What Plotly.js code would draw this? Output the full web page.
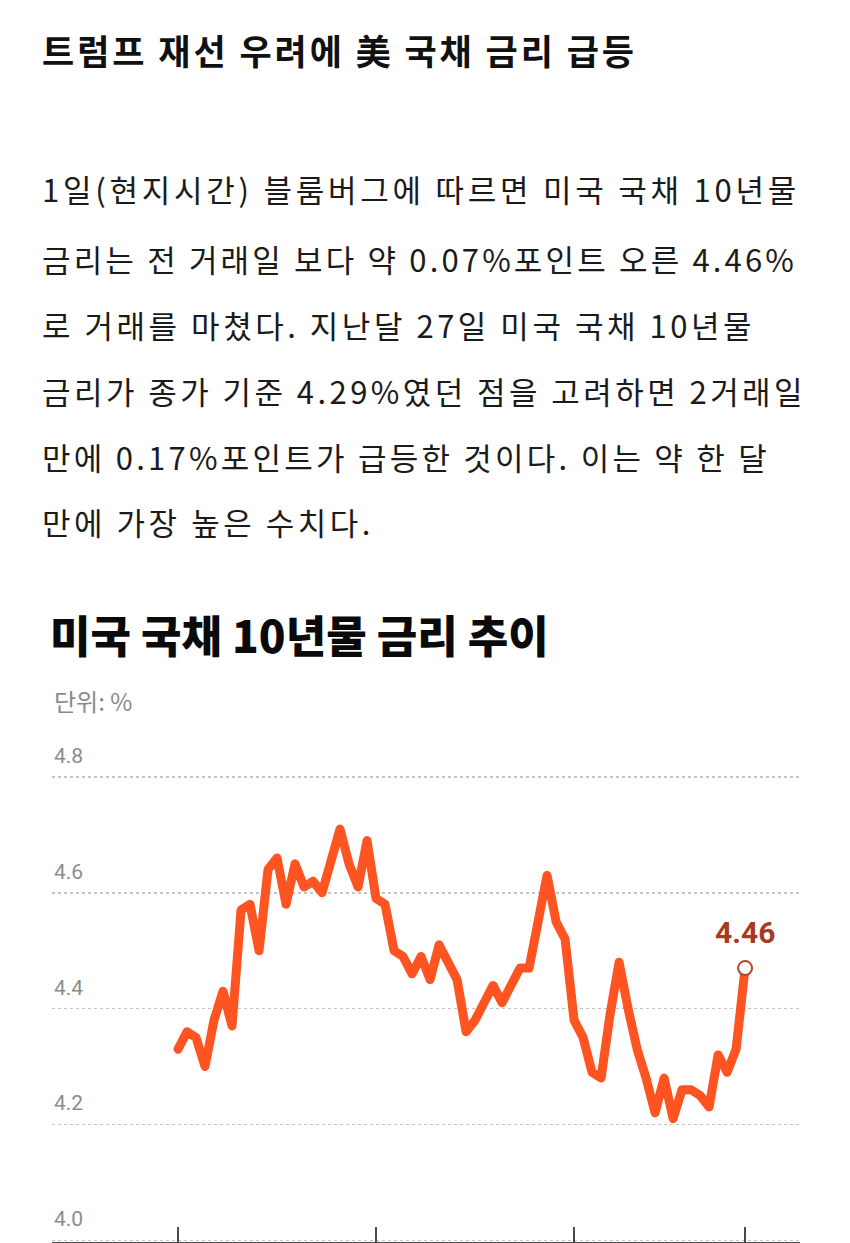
<!DOCTYPE html>
<html>
<head>
<meta charset="utf-8">
<script src="https://cdn.plot.ly/plotly-3.0.1.min.js"></script>
<style>
  html, body { margin: 0; padding: 0; background: #ffffff; }
  body { width: 850px; height: 1243px; position: relative; overflow: hidden; }
  #chart { position: absolute; left: 0; top: 0; width: 850px; height: 1243px; }
  .txt { position: absolute; left: 42px; white-space: nowrap; z-index: 5;
         font-family: "Noto Sans CJK KR", "Noto Sans", sans-serif; color: #1b1b1b; }
  .head { font-size: 35px; font-weight: 700; color: #111; line-height: 40px; }
  .body { font-size: 31px; font-weight: 400; line-height: 40px; }
  .scatterlayer .js-line { stroke-linejoin: round !important; stroke-linecap: round !important; }
</style>
</head>
<body>
<div id="chart"></div>
<script>
// ---------- text ----------
const headline = "트럼프 재선 우려에 美 국채 금리 급등";
const bodyLines = [
  "1일(현지시간) 블룸버그에 따르면 미국 국채 10년물",
  "금리는 전 거래일 보다 약 0.07%포인트 오른 4.46%",
  "로 거래를 마쳤다. 지난달 27일 미국 국채 10년물",
  "금리가 종가 기준 4.29%였던 점을 고려하면 2거래일",
  "만에 0.17%포인트가 급등한 것이다. 이는 약 한 달",
  "만에 가장 높은 수치다."
];
const chartTitle = "미국 국채 10년물 금리 추이";
const unitLabel = "단위: %";
const lastLabel = "4.46";

// ---------- data ----------
const dates = [
  "2024-04-01","2024-04-02","2024-04-03","2024-04-04","2024-04-05",
  "2024-04-08","2024-04-09","2024-04-10","2024-04-11","2024-04-12",
  "2024-04-15","2024-04-16","2024-04-17","2024-04-18","2024-04-19",
  "2024-04-22","2024-04-23","2024-04-24","2024-04-25","2024-04-26",
  "2024-04-29","2024-04-30",
  "2024-05-01","2024-05-02","2024-05-03",
  "2024-05-06","2024-05-07","2024-05-08","2024-05-09","2024-05-10",
  "2024-05-13","2024-05-14","2024-05-15","2024-05-16","2024-05-17",
  "2024-05-20","2024-05-21","2024-05-22","2024-05-23","2024-05-24",
  "2024-05-28","2024-05-29","2024-05-30","2024-05-31",
  "2024-06-03","2024-06-04","2024-06-05","2024-06-06","2024-06-07",
  "2024-06-10","2024-06-11","2024-06-12","2024-06-13","2024-06-14",
  "2024-06-17","2024-06-18","2024-06-20","2024-06-21",
  "2024-06-24","2024-06-25","2024-06-26","2024-06-27","2024-06-28",
  "2024-07-01"
];
const yields = [
  4.33, 4.36, 4.35, 4.30, 4.38,
  4.43, 4.37, 4.57, 4.58, 4.50,
  4.64, 4.66, 4.58, 4.65, 4.61,
  4.62, 4.60, 4.66, 4.71, 4.65,
  4.61, 4.69,
  4.59, 4.58, 4.50,
  4.49, 4.46, 4.49, 4.45, 4.51,
  4.48, 4.45, 4.36, 4.38, 4.41,
  4.44, 4.41, 4.44, 4.47, 4.47,
  4.55, 4.63, 4.55, 4.52,
  4.38, 4.35, 4.29, 4.28, 4.39,
  4.48, 4.40, 4.33, 4.28, 4.22,
  4.28, 4.21, 4.26, 4.26,
  4.25, 4.23, 4.32, 4.29, 4.33,
  4.47
];
const xTickDates = ["2024-04-01", "2024-05-01", "2024-06-03", "2024-07-01"];
const yTicks = [4.0, 4.2, 4.4, 4.6, 4.8];

// ---------- article text (HTML) ----------
function addLine(text, cls, centerY, targetW) {
  const d = document.createElement("div");
  d.className = "txt " + cls;
  d.textContent = text;
  d.style.top = (centerY - 20 - 2) + "px";
  document.body.appendChild(d);
  const nat = d.getBoundingClientRect().width;
  const n = [...text].length;
  if (targetW && n > 1) {
    d.style.letterSpacing = ((targetW - nat) / n) + "px";
  }
}
addLine(headline, "head", 52, 595);
const lineCenters = [191, 261, 327, 393, 459, 524];
const lineWidths = [758, 755, 713, 764, 728, 332];
bodyLines.forEach((t, i) => addLine(t, "body", lineCenters[i], lineWidths[i]));

// ---------- chart ----------
const lineColor = "#fd5422";
const n = dates.length;

const traces = [
  {
    type: "scatter", mode: "lines",
    x: dates, y: yields,
    line: { color: lineColor, width: 9, shape: "linear" },
    hoverinfo: "skip"
  },
  {
    type: "scatter", mode: "markers",
    x: [dates[n - 1]], y: [yields[n - 1]],
    marker: { size: 14, color: "#ffffff", line: { color: "#b5472d", width: 2 } },
    hoverinfo: "skip"
  }
];

const yTickAnnotations = yTicks.map(v => ({
  xref: "paper", yref: "y",
  x: 0, xanchor: "left", xshift: 0,
  y: v, yanchor: "bottom", yshift: 7,
  text: v.toFixed(1), showarrow: false,
  font: { family: "Roboto, 'Liberation Sans', sans-serif", size: 21, color: "#8c8c8c" }
}));

const layout = {
  width: 850, height: 1243,
  margin: { l: 52, r: 50, t: 719, b: 1 },
  paper_bgcolor: "rgba(0,0,0,0)",
  plot_bgcolor: "rgba(0,0,0,0)",
  showlegend: false,
  font: { family: "Roboto, 'Noto Sans CJK KR', sans-serif" },
  title: {
    text: chartTitle,
    xref: "container", yref: "container",
    x: 50 / 850, xanchor: "left",
    y: 1 - 638 / 1243, yanchor: "middle",
    font: { family: "'Noto Sans CJK KR', sans-serif", size: 44, weight: 900, color: "#0a0a0a" }
  },
  xaxis: {
    type: "category",
    categoryorder: "array", categoryarray: dates,
    range: [-14, 69.1],
    showgrid: false, zeroline: false,
    showline: true, linecolor: "#4a4a4a", linewidth: 1.5,
    tickmode: "array", tickvals: xTickDates,
    ticks: "inside", ticklen: 15, tickwidth: 1.5, tickcolor: "#4a4a4a",
    showticklabels: false,
    fixedrange: true
  },
  yaxis: {
    range: [3.997, 4.9],
    tickmode: "array", tickvals: yTicks,
    showticklabels: false,
    ticks: "",
    showgrid: true, gridcolor: "#c4c4c4", gridwidth: 1.5, griddash: "dot",
    zeroline: false, showline: false,
    fixedrange: true
  },
  annotations: [
    {
      xref: "paper", yref: "paper",
      x: 0, xanchor: "left",
      y: (1242 - 700) / 523, yanchor: "middle",
      text: unitLabel, showarrow: false,
      font: { family: "'Noto Sans CJK KR', sans-serif", size: 24, color: "#8a8a8a" }
    },
    {
      x: dates[n - 1], y: yields[n - 1],
      text: lastLabel, showarrow: false,
      yshift: 36, xanchor: "center", yanchor: "middle",
      font: { family: "Roboto, 'Liberation Sans', sans-serif", size: 30, weight: 700, color: "#a8391f" }
    }
  ].concat(yTickAnnotations)
};

Plotly.newPlot("chart", traces, layout, { staticPlot: true, displayModeBar: false });
</script>
</body>
</html>
